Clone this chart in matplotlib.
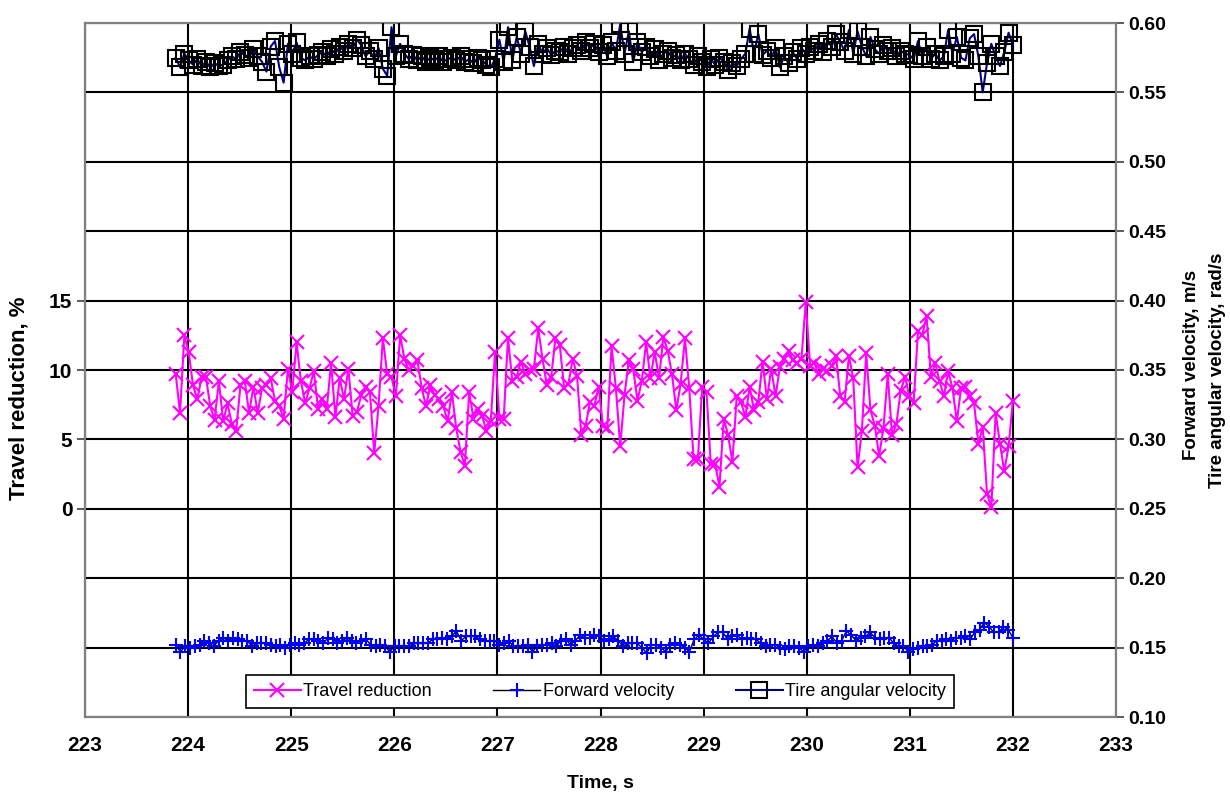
import matplotlib.pyplot as plt
import numpy as np

plt.rcParams['font.family'] = ['Liberation Sans', 'DejaVu Sans']

# travel reduction, % (left axis)
travel_red = [9.7, 6.9, 12.5, 11.3, 8.9, 7.9, 9.5, 9.5, 7.4, 6.4,
              9.2, 6.3, 7.6, 6.1, 5.6, 8.9, 9.2, 6.9, 8.8, 6.9,
              8.7, 8.9, 9.4, 7.8, 7.4, 6.5, 10.1, 8.4, 12.0, 9.2,
              7.6, 8.7, 9.9, 7.2, 7.9, 7.2, 10.5, 6.6, 9.4, 7.9,
              10.1, 6.7, 7.0, 8.2, 8.8, 8.4, 4.0, 7.4, 12.3, 9.7,
              9.5, 8.1, 12.5, 10.8, 10.0, 10.3, 10.7, 8.7, 7.4, 8.9,
              8.2, 7.9, 7.4, 6.3, 8.4, 5.8, 4.1, 3.1,
              8.4, 6.5, 7.2, 6.7, 5.6, 6.3, 11.3, 6.5, 6.5, 12.3,
              9.2, 9.5, 10.6, 9.7, 10.0, 10.1, 13.0, 10.8, 8.9, 9.5,
              12.3, 11.8, 8.7, 9.0, 10.8, 9.6, 5.3, 6.0, 7.7, 7.4,
              8.8, 6.0, 5.8, 11.7, 8.7, 4.5, 8.2, 10.7, 10.1, 7.8,
              9.2, 12.0, 9.4, 11.3, 9.4, 12.4, 11.4, 9.7, 7.1, 9.0,
              12.3, 8.7, 3.6, 3.6, 8.8, 8.4, 3.2, 3.2, 1.6, 6.5,
              5.3, 3.4, 8.1, 7.7, 6.6, 8.8, 7.1, 7.7, 10.6, 7.9,
              10.1, 8.1, 10.2,
              10.8, 11.4, 10.7, 10.5, 10.8, 14.9, 10.3, 10.5, 9.7, 10.1,
              9.9, 10.3, 11.0, 8.1, 7.7, 11.0, 9.4, 3.0, 5.6, 11.2,
              7.1, 6.0, 3.8, 5.8, 9.7, 5.3, 6.1, 8.5, 9.5, 8.1,
              7.6, 12.8, 12.5, 13.9, 9.5, 10.5, 9.2, 8.1, 9.9, 8.7,
              6.3, 8.7, 8.8, 8.1, 7.6, 4.7, 5.9, 1.1, 0.1, 6.9,
              4.7, 2.7, 4.5, 7.8]

# forward velocity, m/s (right axis)
fwd_vel = [.152, .147, .151, .150, .151, .152, .155, .153, .151, .155,
           .157, .155, .157, .156, .155, .155, .151, .153, .153, .153,
           .152, .151, .152, .150, .152, .153, .152, .153, .156, .156,
           .155, .153, .157, .156, .153, .155, .157, .155, .153, .155,
           .156, .152, .151, .152, .151, .147, .151, .151, .151, .151,
           .153, .153, .153, .153, .156, .156, .157, .156, .158, .162,
           .155, .158, .158, .158, .156, .155, .155, .155, .152, .153,
           .155, .151, .151, .151, .152, .147, .151, .152, .152, .153,
           .151, .155, .156, .152, .155, .159, .157, .157, .159, .158,
           .155, .156, .158,
           .155, .151, .153, .153, .153, .150, .146, .152, .152, .150,
           .147, .152, .153, .152, .150, .147, .156, .159, .156, .153,
           .158, .161, .161, .156, .158, .159, .156, .157, .156, .156,
           .153, .151, .152, .152, .150, .149, .151, .151, .150, .147,
           .151, .152, .151, .153, .155, .158, .153, .155, .162, .159,
           .155, .157, .158, .161, .157, .156, .157, .157, .153, .151,
           .151, .147, .149, .150, .151, .151, .152, .155, .155, .156,
           .155, .157, .157, .158, .156, .161, .163, .168, .165, .161,
           .161, .165, .163, .157]

# tire angular velocity, rad/s (right axis)
tire_vel = [0.575, 0.568, 0.578,
            0.573, 0.570, 0.574, 0.569, 0.572, 0.568, 0.571, 0.569, 0.570, 0.573, 0.576, 0.574,
            0.579, 0.577, 0.575, 0.581, 0.576, 0.572, 0.565, 0.583, 0.587, 0.568, 0.557, 0.585,
            0.578, 0.586, 0.575, 0.573, 0.576, 0.574, 0.577, 0.579, 0.576, 0.581, 0.578, 0.583,
            0.580, 0.585, 0.582, 0.588, 0.584, 0.576, 0.580, 0.574, 0.582, 0.567, 0.562, 0.597,
            0.576, 0.585, 0.578, 0.574, 0.577, 0.573, 0.576, 0.572, 0.575, 0.573, 0.576, 0.572,
            0.574, 0.575, 0.573, 0.576, 0.572, 0.574, 0.571, 0.575, 0.573, 0.570, 0.568, 0.574,
            0.588, 0.572, 0.597, 0.573, 0.590, 0.578, 0.594, 0.583, 0.569, 0.585, 0.578, 0.582,
            0.577, 0.580, 0.579, 0.583, 0.578, 0.582, 0.584, 0.580, 0.586, 0.582, 0.585, 0.579,
            0.584, 0.576, 0.586, 0.580, 0.599, 0.578, 0.594, 0.572, 0.586, 0.579, 0.583, 0.576,
            0.581, 0.573, 0.578, 0.580, 0.575, 0.577, 0.573, 0.578, 0.574, 0.570, 0.576, 0.572,
            0.568, 0.574, 0.570, 0.575, 0.572, 0.566, 0.571, 0.569, 0.574, 0.578, 0.596, 0.578,
            0.592, 0.577, 0.580, 0.575, 0.582, 0.568, 0.576, 0.571, 0.579, 0.574, 0.582, 0.578,
            0.583, 0.580, 0.585, 0.579, 0.587, 0.583, 0.592, 0.586, 0.580, 0.595, 0.578, 0.594,
            0.583, 0.576, 0.590, 0.581, 0.578, 0.584, 0.580, 0.582, 0.576, 0.580, 0.578, 0.577,
            0.574, 0.587, 0.576, 0.583, 0.574, 0.578, 0.573, 0.576, 0.595, 0.578, 0.590, 0.575,
            0.573, 0.589, 0.592, 0.576, 0.550, 0.571, 0.585, 0.576, 0.569, 0.579, 0.593, 0.584]

t_start, t_end = 223.88, 232.0
t_tr = np.linspace(t_start, t_end, len(travel_red))
t_fv = np.linspace(t_start, t_end, len(fwd_vel))
t_tv = np.linspace(t_start, t_end, len(tire_vel))

fig = plt.figure(figsize=(12.3, 7.92), dpi=100)
ax = fig.add_axes([85/1230, 75/792, 1031/1230, 694/792])
ax2 = ax.twinx()

# right axis carries the horizontal grid
rticks = np.arange(0.10, 0.601, 0.05)
ax2.set_ylim(0.10, 0.60)
ax2.set_yticks(rticks)
ax2.set_yticklabels([f'{v:.2f}' for v in rticks], fontsize=14, fontweight='bold')
ax2.grid(axis='y', color='black', lw=1.5)

ax.set_xlim(223, 233)
ax.set_xticks(range(223, 234))
ax.set_xticklabels([str(v) for v in range(223, 234)], fontsize=15, fontweight='bold')
ax.grid(axis='x', color='black', lw=1.5)
ax.set_ylim(-15, 35)  # 0 % lines up with 0.25, 5 % per 0.05
ax.set_yticks([0, 5, 10, 15])
ax.set_yticklabels(['0', '5', '10', '15'], fontsize=15, fontweight='bold')
ax.set_axisbelow(True)
ax2.set_axisbelow(True)

l1, = ax2.plot([], [], color='magenta', marker='x', ms=10, mew=1.5, lw=1.5,
               label='Travel reduction')
ax2.plot(t_tr, np.array(travel_red) * 0.01 + 0.25, color='magenta', marker='x',
         ms=10, mew=1.5, lw=1.5, zorder=3)
l2, = ax2.plot(t_fv, fwd_vel, color='black', lw=1, marker='+', ms=10, mew=1.5,
               mec='blue', label='Forward velocity', zorder=3)
l3, = ax2.plot(t_tv, tire_vel, color='#000080', lw=1.5, marker='s', ms=11,
               mfc='none', mec='black', mew=1.5, label='Tire angular velocity', zorder=3)

for a in (ax, ax2):
    for s in a.spines.values():
        s.set_color('#808080')
        s.set_linewidth(1.5)
ax.spines['left'].set_color('black')
ax.tick_params(axis='x', length=0, pad=14)
ax.tick_params(axis='y', length=6, width=1.2, color='#404040', pad=3)
ax2.tick_params(axis='y', length=6, width=1.2, color='#404040', pad=3)

ax.set_xlabel('Time, s', fontsize=14, fontweight='bold', labelpad=14)
ax.set_ylabel('Travel reduction, %', fontsize=16, fontweight='bold')
ax.yaxis.set_label_coords(-0.054, 0.46)
fig.text(1192/1230, 1 - 365/792, 'Forward velocity, m/s', rotation=90, ha='center',
         va='center', fontsize=13.5, fontweight='bold')
fig.text(1218/1230, 1 - 370/792, 'Tire angular velocity, rad/s', rotation=90, ha='center',
         va='center', fontsize=13.5, fontweight='bold')

leg = ax2.legend(handles=[l1, l2, l3], loc='lower center', bbox_to_anchor=(0.4995, 0.013),
                 borderaxespad=0, ncol=3, fontsize=13, frameon=True, fancybox=False,
                 edgecolor='black', handlelength=2.6, columnspacing=3.4, borderpad=0.45,
                 handletextpad=0.15)
leg.get_frame().set_linewidth(1.2)
leg.get_frame().set_alpha(1)

fig.savefig('out.png', dpi=100)
